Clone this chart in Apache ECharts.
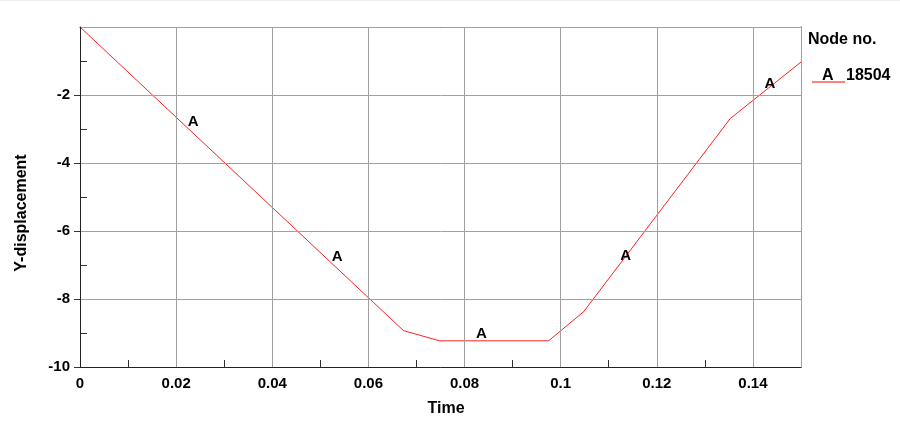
<!DOCTYPE html>
<html>
<head>
<meta charset="utf-8">
<script src="https://cdn.jsdelivr.net/npm/echarts@6/dist/echarts.min.js"></script>
<style>
html,body{margin:0;padding:0;background:#fff;}
#chart{width:900px;height:422px;}
</style>
</head>
<body>
<div id="chart"></div>
<script>
// Curve: Node 18504
var times = [0, 0.0673, 0.0748, 0.0975, 0.1048, 0.1353, 0.15];
var disp  = [0, -8.93, -9.23, -9.23, -8.37, -2.69, -1.03];
// Curve identifier markers "A"
var markTimes = [0.0225, 0.0525, 0.0825, 0.1125, 0.1425];
var markDisp  = [-2.99, -6.97, -9.23, -6.94, -1.88];
var markLetter = 'A';
var seriesName = '18504';
var legendTitle = 'Node no.';
var xTitle = 'Time';
var yTitle = 'Y-displacement';

var FONT = '"Liberation Sans", Arial, sans-serif';
var chart = echarts.init(document.getElementById('chart'));

var lineData = times.map(function (t, i) { return [t, disp[i]]; });
var markData = markTimes.map(function (t, i) { return [t, markDisp[i]]; });

var tickStyle = { color: '#333', width: 1 };
var labelStyle = { color: '#000', fontWeight: 'bold', fontSize: 15, fontFamily: FONT };
var gridRect = { left: 80, right: 99, top: 27, bottom: 55, show: false };
var boxLine = { show: true, onZero: false, lineStyle: { color: '#222', width: 1 } };
var noLine = { show: false, onZero: false };

chart.setOption({
  animation: false,
  backgroundColor: '#fff',
  grid: [Object.assign({}, gridRect), Object.assign({}, gridRect)],
  xAxis: [
    {
      gridIndex: 0, type: 'value', min: 0, max: 0.15, interval: 0.02, position: 'bottom',
      axisLine: boxLine,
      axisTick: { show: false },
      splitLine: { show: true, lineStyle: { color: '#a0a0a0', width: 1 } },
      axisLabel: Object.assign({ margin: 9, showMaxLabel: false, formatter: function (v) { return String(+v.toFixed(4)); } }, labelStyle),
      z: 5
    },
    {
      gridIndex: 0, type: 'value', min: 0, max: 0.15, interval: 0.02, position: 'top',
      axisLine: boxLine,
      axisTick: { show: true, inside: true, length: 7, lineStyle: tickStyle },
      splitLine: { show: false },
      axisLabel: { show: false }
    },
    {
      gridIndex: 1, type: 'value', min: 0, max: 0.15, interval: 0.01, position: 'bottom',
      axisLine: noLine,
      axisTick: { show: true, inside: true, length: 7, lineStyle: tickStyle },
      splitLine: { show: false },
      axisLabel: { show: false }
    }
  ],
  yAxis: [
    {
      gridIndex: 0, type: 'value', min: -10, max: 0, interval: 2, position: 'left',
      axisLine: boxLine,
      axisTick: { show: true, inside: false, length: 6, lineStyle: tickStyle },
      splitLine: { show: true, lineStyle: { color: '#a0a0a0', width: 1 } },
      axisLabel: Object.assign({ margin: 10, showMaxLabel: false }, labelStyle),
      z: 5
    },
    {
      gridIndex: 0, type: 'value', min: -10, max: 0, interval: 2, position: 'right',
      axisLine: boxLine,
      axisTick: { show: true, inside: true, length: 6, lineStyle: { color: '#777', width: 1 } },
      splitLine: { show: false },
      axisLabel: { show: false }
    },
    {
      gridIndex: 1, type: 'value', min: -10, max: 0, interval: 1, position: 'left',
      axisLine: noLine,
      axisTick: { show: true, inside: true, length: 7, lineStyle: tickStyle },
      splitLine: { show: false },
      axisLabel: { show: false }
    }
  ],
  series: [
    {
      name: seriesName, type: 'line', xAxisIndex: 0, yAxisIndex: 0,
      data: lineData, symbol: 'none', smooth: false,
      lineStyle: { color: '#ff2020', width: 1 },
      z: 3
    },
    {
      name: seriesName + '-id', type: 'scatter', xAxisIndex: 0, yAxisIndex: 0,
      data: markData, symbol: 'circle', symbolSize: 1,
      itemStyle: { color: 'rgba(0,0,0,0)', opacity: 1 },
      label: {
        show: true, formatter: markLetter, position: [0, 1],
        align: 'left', verticalAlign: 'bottom', opacity: 1,
        color: '#000', fontWeight: 'bold', fontSize: 15, fontFamily: FONT
      },
      silent: true, z: 4
    }
  ],
  graphic: [
    { type: 'rect', left: 0, top: 0, shape: { width: 900, height: 1 }, style: { fill: '#ececec' }, silent: true },
    {
      type: 'text', x: 22, y: 213, rotation: Math.PI / 2,
      style: { text: yTitle, font: 'bold 16px ' + FONT, fill: '#000', align: 'center', verticalAlign: 'middle' }
    },
    {
      type: 'text', x: 446, y: 409,
      style: { text: xTitle, font: 'bold 16px ' + FONT, fill: '#000', align: 'center', verticalAlign: 'middle' }
    },
    {
      type: 'text', x: 808, y: 40,
      style: { text: legendTitle, font: 'bold 16px ' + FONT, fill: '#000', align: 'left', verticalAlign: 'middle' }
    },
    {
      type: 'line', shape: { x1: 812, y1: 82, x2: 845, y2: 82 },
      style: { stroke: '#ff0000', lineWidth: 1 }
    },
    {
      type: 'text', x: 822, y: 76,
      style: { text: markLetter, font: 'bold 16px ' + FONT, fill: '#000', align: 'left', verticalAlign: 'middle' }
    },
    {
      type: 'text', x: 846, y: 76,
      style: { text: seriesName, font: 'bold 16px ' + FONT, fill: '#000', align: 'left', verticalAlign: 'middle' }
    }
  ]
});
</script>
</body>
</html>
